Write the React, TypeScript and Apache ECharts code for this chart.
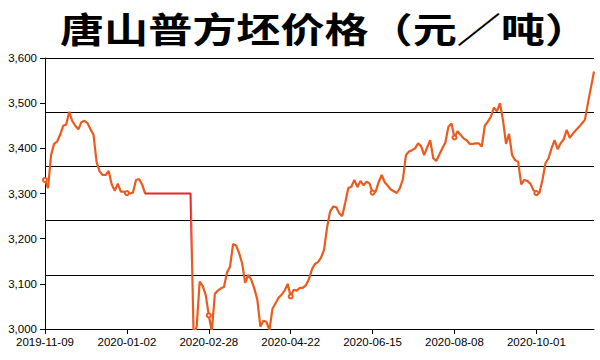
import React, { useEffect, useRef } from "react";
import * as echarts from "echarts";

const TITLE = "唐山普方坯价格（元／吨）";

// Category dates: every other day, with the Spring Festival gap (2020-01-24 -> 2020-01-29)
function buildDates(): string[] {
  const out: string[] = [];
  let t = Date.UTC(2019, 10, 9);
  const day = 86400000;
  for (let i = 0; i < 182; i++) {
    out.push(new Date(t).toISOString().slice(0, 10));
    t += i === 38 ? 5 * day : 2 * day;
  }
  return out;
}
const dates: string[] = buildDates();

const prices: number[] = [
  3330, 3312, 3385, 3410, 3415, 3430, 3450, 3453, 3481, 3460,
  3450, 3442, 3458, 3461, 3456, 3442, 3430, 3370, 3349, 3341,
  3341, 3350, 3320, 3306, 3322, 3304, 3304, 3301, 3300, 3302,
  3330, 3332, 3320,
  3300, 3300, 3300, 3300, 3300, 3300, 3300, 3300, 3300, 3300,
  3300, 3300, 3300, 3300, 3300, 3300,
  2985, 3005, 3105, 3095, 3075, 3030, 2995, 3078, 3085, 3090,
  3093, 3125, 3138, 3188, 3185, 3168, 3145, 3102, 3120, 3109,
  3090, 3065, 3005, 3018, 3016, 2998, 3045, 3057, 3069, 3076,
  3085, 3100, 3072, 3087, 3085, 3091, 3091, 3097, 3110, 3132,
  3144, 3148, 3158, 3175, 3225, 3260, 3271, 3270, 3256, 3250,
  3280, 3312, 3315, 3330, 3314, 3328, 3318, 3326, 3322, 3302,
  3304, 3325, 3341, 3325, 3317, 3309, 3305, 3301, 3312, 3332,
  3385, 3393, 3396, 3400, 3411, 3405, 3385, 3402, 3418, 3378,
  3372, 3386, 3400, 3413, 3448, 3455, 3424, 3438, 3430, 3422,
  3418, 3410, 3410, 3411, 3411, 3404, 3450, 3459, 3470, 3490,
  3482, 3500, 3462, 3410, 3432, 3385, 3374, 3370, 3320, 3330,
  3328, 3322, 3308, 3301, 3301, 3330, 3367, 3378, 3400, 3418,
  3398, 3411, 3420, 3441, 3423, 3432, 3440, 3447, 3455, 3463,
  3500, 3535, 3570,
];

const Y_MIN = 3000;
const Y_MAX = 3600;
const Y_TICK_STEP = 100;
const GRID_STEP = 120;

function fmt(v: number): string {
  return String(v).replace(/\B(?=(\d{3})+(?!\d))/g, ",");
}

export default function App() {
  const ref = useRef<HTMLDivElement>(null);
  useEffect(() => {
    if (!ref.current) return;
    const chart = echarts.init(ref.current, undefined, { renderer: "svg" });
    chart.setOption({
      animation: false,
      backgroundColor: "#fff",
      graphic: [
        {
          type: "text",
          x: 60,
          y: 28,
          scaleX: 1.26,
          style: {
            text: TITLE,
            fontSize: 35,
            fontWeight: "bold",
            fontFamily: "Noto Sans CJK SC",
            fill: "#000",
            textAlign: "left",
            textVerticalAlign: "middle",
          },
        },
      ],
      grid: { left: 45, right: 6, top: 58, bottom: 31 },
      xAxis: {
        type: "category",
        data: dates,
        boundaryGap: false,
        axisLine: { lineStyle: { color: "#000", width: 1 } },
        axisTick: { interval: 26, length: 5, lineStyle: { color: "#000" } },
        axisLabel: {
          interval: 26,
          color: "#000",
          fontSize: 11.5,
          fontFamily: "Liberation Sans",
          margin: 7,
        },
        splitLine: { show: false },
      },
      yAxis: [
        {
          type: "value",
          min: Y_MIN,
          max: Y_MAX,
          interval: Y_TICK_STEP,
          axisLine: { show: true, lineStyle: { color: "#000" } },
          axisTick: { show: true, length: 5, lineStyle: { color: "#000" } },
          axisLabel: {
            formatter: (v: number) => fmt(v),
            color: "#000",
            fontSize: 11.5,
            fontFamily: "Liberation Sans",
            margin: 8,
          },
          splitLine: { show: false },
        },
        {
          type: "value",
          min: Y_MIN,
          max: Y_MAX,
          interval: GRID_STEP,
          position: "right",
          axisLine: { show: false },
          axisTick: { show: false },
          axisLabel: { show: false },
          splitLine: { show: true, lineStyle: { color: "#000", width: 1.2 } },
        },
      ],
      visualMap: {
        show: false,
        type: "piecewise",
        dimension: 0,
        seriesIndex: 0,
        pieces: [{ gte: 32.5, lte: 48, color: "#E8262A" }],
        outOfRange: { color: "#EC5A1C" },
      },
      series: [
        {
          type: "line",
          data: prices,
          yAxisIndex: 0,
          symbol: "emptyCircle",
          symbolSize: 4,
          showAllSymbol: "auto",
          lineStyle: { width: 2.2 },
          clip: true,
        },
      ],
    });
    return () => chart.dispose();
  }, []);
  return (
    <div
      ref={ref}
      style={{ position: "fixed", left: 0, top: 0, width: 600, height: 360 }}
    />
  );
}
